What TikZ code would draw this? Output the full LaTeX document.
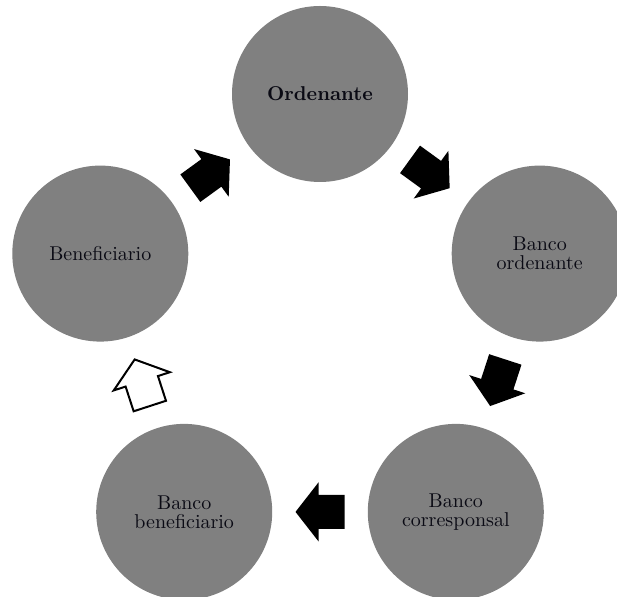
\documentclass[tikz,border=0pt]{standalone}
\usetikzlibrary{calc}
\definecolor{circgray}{RGB}{128,128,128}
\definecolor{inkdark}{RGB}{10,10,20}
\tikzset{
  stage/.style={circle, fill=circgray, minimum size=88pt, inner sep=0pt,
    align=center, text=inkdark, font=\fontsize{10}{9.6}\selectfont},
  blockarr/.pic={
    \path[pic actions] (-12.25pt,-8.5pt) -- (0.75pt,-8.5pt) -- (0.75pt,-14.75pt)
      -- (12.25pt,0pt) -- (0.75pt,14.75pt) -- (0.75pt,8.5pt) -- (-12.25pt,8.5pt) -- cycle;
  },
  solidarr/.style={fill=black},
  openarr/.style={fill=white, draw=black, line width=1pt, line join=miter},
}
\begin{document}
\begin{tikzpicture}[x=0.5pt, y=-0.5pt]
\useasboundingbox (0,0) rectangle (617,597);
\clip (0,0) rectangle (617,597);

\node[stage] (ord) at (320,94) {\textbf{Ordenante}};
\node[stage] (bord) at (539.7,253.6) {Banco\\ordenante};
\node[stage] (bcor) at (455.8,511.9) {Banco\\corresponsal};
\node[stage] (bben) at (184.2,511.9) {Banco\\beneficiario};
\node[stage] (ben) at (100.3,253.6) {Beneficiario};

\path let \p1=(ben.center), \p2=(ord.center), \n1={atan2(\y2-\y1,\x2-\x1)} in
  ($(\p1)!0.5!(\p2)$) pic[rotate=\n1, solidarr] {blockarr};
\path let \p1=(ord.center), \p2=(bord.center), \n1={atan2(\y2-\y1,\x2-\x1)} in
  ($(\p1)!0.5!(\p2)$) pic[rotate=\n1, solidarr] {blockarr};
\path let \p1=(bord.center), \p2=(bcor.center), \n1={atan2(\y2-\y1,\x2-\x1)} in
  ($(\p1)!0.5!(\p2)$) pic[rotate=\n1, solidarr] {blockarr};
\path let \p1=(bcor.center), \p2=(bben.center), \n1={atan2(\y2-\y1,\x2-\x1)} in
  ($(\p1)!0.5!(\p2)$) pic[rotate=\n1, solidarr] {blockarr};
\path let \p1=(bben.center), \p2=(ben.center), \n1={atan2(\y2-\y1,\x2-\x1)} in
  ($(\p1)!0.5!(\p2)$) pic[rotate=\n1, openarr] {blockarr};
\end{tikzpicture}
\end{document}
